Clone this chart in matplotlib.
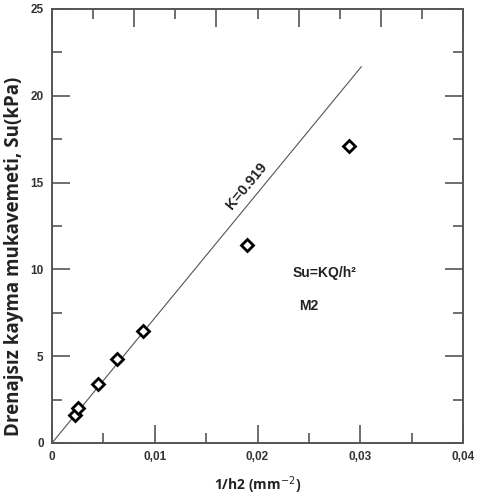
import numpy as np
import matplotlib.pyplot as plt
from matplotlib.ticker import MultipleLocator, FuncFormatter

# datos
inv_h2 = [0.00224, 0.0025, 0.0045, 0.0063, 0.00883, 0.0190, 0.0289]
su = [1.6, 2.0, 3.4, 4.85, 6.45, 11.4, 17.1]
linea_x = [0.0, 0.0301]
K_pend = 720.0

fig = plt.figure(figsize=(4.79, 4.96), dpi=100)
ax = fig.add_axes([0.1086, 0.1069, 0.858, 0.875])

lx = np.array(linea_x)
ax.plot(lx, K_pend * lx, color='#555555', lw=0.8)
ax.plot(inv_h2, su, 'D', mfc='white', mec='black', mew=2.0, ms=6, ls='none')

ax.set_xlim(0, 0.04)
ax.set_ylim(0, 25)

ax.xaxis.set_major_locator(MultipleLocator(0.01))
ax.xaxis.set_minor_locator(MultipleLocator(0.005))
ax.yaxis.set_major_locator(MultipleLocator(5))
ax.yaxis.set_minor_locator(MultipleLocator(2.5))
ax.xaxis.set_major_formatter(FuncFormatter(lambda v, p: '0' if v == 0 else ('%.2f' % v).replace('.', ',')))
ax.tick_params(which='both', direction='in', top=False, right=True, colors='#555555',
               labelcolor='#333333', width=1.2)
ax.tick_params(which='major', length=13, pad=6)
ax.tick_params(which='minor', length=7)
for lab in ax.get_xticklabels() + ax.get_yticklabels():
    lab.set_fontfamily('Liberation Sans')
    lab.set_fontweight('bold')
    lab.set_fontsize(8.5)

# eje superior con otras marcas
ax2 = ax.twiny()
ax2.set_xlim(0, 0.04)
ax2.xaxis.set_major_locator(MultipleLocator(0.008))
ax2.xaxis.set_minor_locator(MultipleLocator(0.004))
ax2.tick_params(which='both', direction='in', colors='#555555', labeltop=False, width=1.2)
ax2.tick_params(which='major', length=13)
ax2.tick_params(which='minor', length=7)

for a in (ax, ax2):
    for s in a.spines.values():
        s.set_color('#555555')
        s.set_linewidth(1.2)

ax.set_xlabel('1/h2 (mm$^{-2}$)', fontsize=10, fontweight='bold', color='#222222',
              fontfamily='Open Sans', labelpad=8)
ax.set_ylabel('Drenajsız kayma mukavemeti, Su(kPa)', fontsize=13.5, fontweight='bold',
              color='#222222', fontfamily='Open Sans')
ax.yaxis.set_label_coords(-0.068, 0.43)

ax.text(0.0189, 14.8, 'K=0.919', rotation=50.6, ha='center', va='center', fontsize=10.5,
        fontweight='bold', color='#222222', fontfamily='Liberation Sans')
ax.text(0.0265, 9.8, 'Su=KQ/h²', ha='center', va='center', fontsize=10,
        fontweight='bold', color='#222222', fontfamily='Liberation Sans')
ax.text(0.0250, 7.9, 'M2', ha='center', va='center', fontsize=10,
        fontweight='bold', color='#222222', fontfamily='Liberation Sans')

fig.savefig('out.png', dpi=100)
